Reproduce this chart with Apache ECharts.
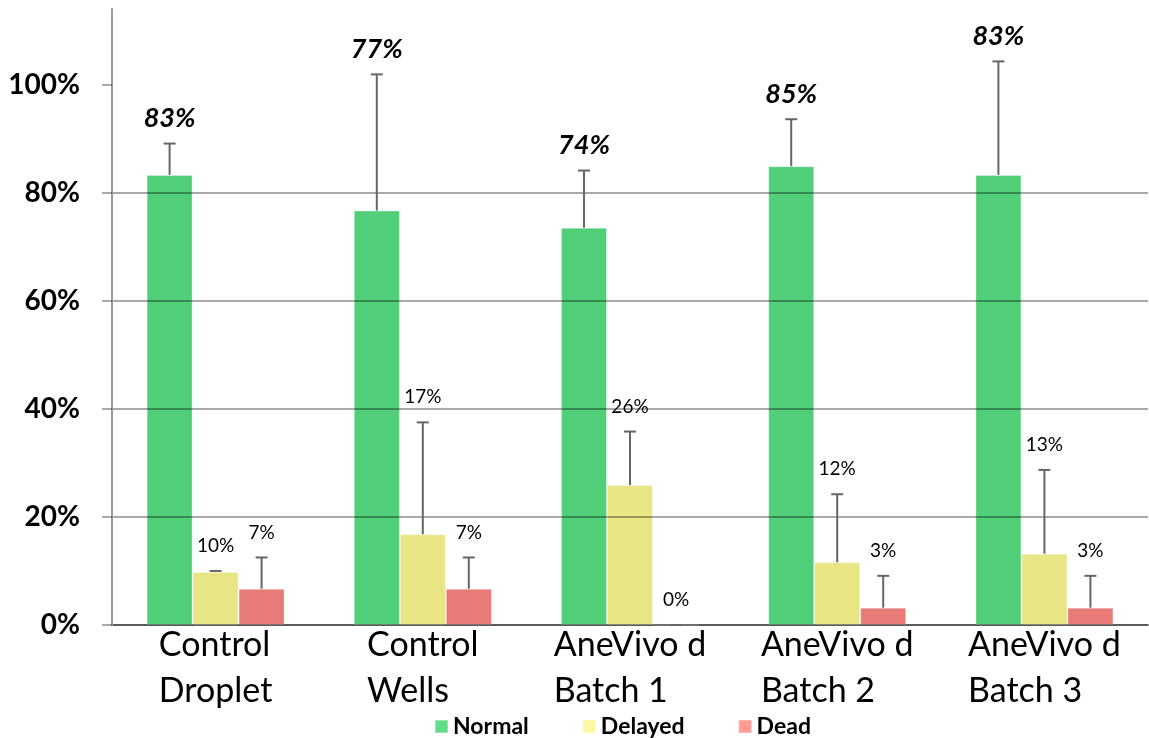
<!DOCTYPE html>
<html>
<head>
<meta charset="utf-8">
<script src="https://cdn.jsdelivr.net/npm/echarts@6/dist/echarts.min.js"></script>
<style>
html,body{margin:0;padding:0;background:#fff;}
#chart{width:1149px;height:738px;}
</style>
</head>
<body>
<div id="chart"></div>
<script>
// ---- data ----
const categories = ['Control\nDroplet', 'Control\nWells', 'AneVivo d\nBatch 1', 'AneVivo d\nBatch 2', 'AneVivo d\nBatch 3'];
const seriesNames = ['Normal', 'Delayed', 'Dead'];
const normal = [0.833, 0.767, 0.735, 0.849, 0.833];
const normalErr = [0.058, 0.252, 0.106, 0.087, 0.210];
const delayed = [0.098, 0.168, 0.259, 0.116, 0.132];
const delayedErr = [0.002, 0.207, 0.099, 0.126, 0.155];
const dead = [0.067, 0.067, 0.0, 0.032, 0.032];
const deadErr = [0.058, 0.058, 0.0, 0.059, 0.059];
const yTicks = [0, 0.2, 0.4, 0.6, 0.8, 1.0];

// ---- styles ----
const FONT = 'Lato';
const BAR_W = 46;
const barColors = ['#50cf78', '#e8e585', '#e87a78'];
const legendColors = ['#62de8a', '#fff7a0', '#ff9a94'];
const values = [normal, delayed, dead];
const errs = [normalErr, delayedErr, deadErr];

const pct = v => Math.round(v * 100) + '%';

function errorSeries(s) {
  const data = values[s].map((v, i) => [i, v, errs[s][i]]);
  const big = s === 0;
  return {
    type: 'custom',
    name: seriesNames[s] + ' err',
    z: 5,
    silent: true,
    data: data,
    renderItem: function (params, api) {
      const idx = api.value(0);
      const mean = api.value(1);
      const e = api.value(2);
      const x = api.coord([idx, 0])[0] + (s - 1) * BAR_W;
      const yBase = api.coord([idx, mean])[1];
      const yTop = api.coord([idx, mean + e])[1];
      const stroke = { stroke: '#666', lineWidth: 2 };
      return {
        type: 'group',
        children: [
          { type: 'line', shape: { x1: x, y1: yBase, x2: x, y2: yTop }, style: stroke },
          { type: 'line', shape: { x1: x - 6, y1: yTop, x2: x + 6, y2: yTop }, style: stroke },
          {
            type: 'text',
            style: {
              text: pct(mean),
              x: x,
              y: yTop - 25,
              align: 'center',
              verticalAlign: 'middle',
              fill: '#000',
              font: big ? 'italic bold 27px Lato' : 'normal 19px Lato'
            }
          }
        ]
      };
    }
  };
}

const barSeries = seriesNames.map((n, s) => ({
  type: 'bar',
  name: n,
  data: values[s],
  barWidth: BAR_W,
  barGap: '0%',
  z: 2,
  itemStyle: { color: barColors[s], borderColor: 'rgba(255,255,255,0.3)', borderWidth: 1 }
}));

const chart = echarts.init(document.getElementById('chart'), null, { renderer: 'canvas' });
chart.setOption({
  backgroundColor: '#fff',
  animation: false,
  grid: { left: 112, right: 1, top: 9, bottom: 113, containLabel: false },
  legend: {
    top: 710,
    left: 429,
    itemWidth: 13,
    itemHeight: 13,
    itemGap: 53,
    icon: 'rect',
    textStyle: { fontFamily: FONT, fontSize: 23, fontWeight: 'bold', color: '#000' },
    data: seriesNames.map((n, s) => ({ name: n, itemStyle: { color: legendColors[s] } }))
  },
  xAxis: {
    type: 'category',
    data: categories,
    axisLine: { show: true, lineStyle: { color: '#8a8a8a', width: 2 } },
    axisTick: { show: false },
    axisLabel: {
      interval: 0,
      margin: -3,
      formatter: v => v.split('\n').map(l => '{a|' + l + '}').join('\n'),
      rich: {
        a: { fontFamily: FONT, fontSize: 34, lineHeight: 46, color: '#000', align: 'left' }
      }
    }
  },
  yAxis: {
    type: 'value',
    min: 0,
    max: 1.14,
    interval: 0.2,
    z: 3,
    axisLine: { show: true, lineStyle: { color: '#999', width: 2 } },
    axisTick: { show: true, customValues: yTicks, length: 10, lineStyle: { color: 'rgba(0,0,0,0.45)', width: 1.5 } },
    axisLabel: {
      customValues: yTicks,
      formatter: v => pct(v),
      margin: 32,
      fontFamily: FONT,
      fontSize: 28,
      fontWeight: 'bold',
      color: '#000'
    },
    splitLine: { show: true, showMaxLine: false, lineStyle: { color: 'rgba(0,0,0,0.45)', width: 1.5 } }
  },
  series: barSeries.concat([0, 1, 2].map(errorSeries))
});
</script>
</body>
</html>
